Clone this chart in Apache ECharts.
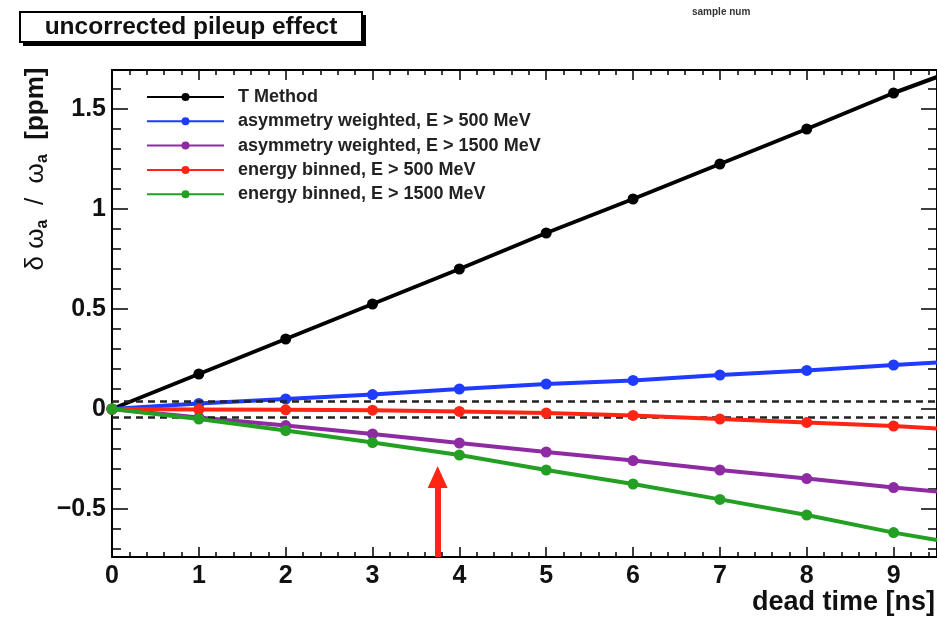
<!DOCTYPE html>
<html><head><meta charset="utf-8">
<script src="https://cdn.jsdelivr.net/npm/echarts@6/dist/echarts.min.js"></script>
<style>html,body{margin:0;padding:0;background:#fff}#c{width:937px;height:617px}</style>
</head><body><div id="c"></div>
<script>
// ---- data ----
const deadTime = [0, 1, 2, 3, 4, 5, 6, 7, 8, 9, 9.5];
const seriesNames = [
  'T Method',
  'asymmetry weighted, E > 500 MeV',
  'asymmetry weighted, E > 1500 MeV',
  'energy binned, E > 500 MeV',
  'energy binned, E > 1500 MeV'
];
const tMethod   = [0, 0.175, 0.35, 0.525, 0.70, 0.88, 1.05, 1.225, 1.40, 1.58, 1.66];
const asymW500  = [0, 0.028, 0.05, 0.072, 0.10, 0.125, 0.143, 0.17, 0.193, 0.22, 0.232];
const asymW1500 = [0, -0.042, -0.083, -0.125, -0.17, -0.215, -0.258, -0.305, -0.348, -0.393, -0.413];
const eBin500   = [0, -0.002, -0.004, -0.006, -0.012, -0.02, -0.032, -0.05, -0.067, -0.085, -0.098];
const eBin1500  = [0, -0.05, -0.108, -0.168, -0.23, -0.305, -0.375, -0.452, -0.53, -0.618, -0.655];
const seriesValues = [tMethod, asymW500, asymW1500, eBin500, eBin1500];
const seriesColors = ['#000000', '#1f3bff', '#8e2ba3', '#ff2414', '#23a023'];

const xTickLabels = [0, 1, 2, 3, 4, 5, 6, 7, 8, 9];
const yTickLabels = [-0.5, 0, 0.5, 1, 1.5];
const xRange = [0, 9.5];
const yRange = [-0.74, 1.695];
const bandLimits = [0.038, -0.038];
const arrowX = 3.75, arrowBase = -0.74, arrowHead = -0.34;

const xMinor = []; for (let i = 0; i <= 47; i++) xMinor.push(+(i * 0.2).toFixed(2));
const yMinor = []; for (let i = -7; i <= 16; i++) yMinor.push(+(i * 0.1).toFixed(2));

const FONT = 'Liberation Sans, Arial, Helvetica, sans-serif';
const fmt = v => String(v).replace('-', '\u2212');

function xAx(pos, major) {
  return {
    type: 'value', min: xRange[0], max: xRange[1], position: pos,
    axisLine: { show: major, onZero: false, lineStyle: { color: '#000', width: 2 } },
    axisTick: { show: true, inside: true, length: major ? 10 : 5,
      customValues: major ? xTickLabels : xMinor, lineStyle: { color: '#000', width: 1.5 } },
    axisLabel: { show: major && pos === 'bottom', customValues: xTickLabels, formatter: fmt,
      fontSize: 25, fontWeight: 'bold', fontFamily: FONT, color: '#111', margin: 7 },
    splitLine: { show: false }
  };
}
function yAx(pos, major) {
  return {
    type: 'value', min: yRange[0], max: yRange[1], position: pos,
    axisLine: { show: major, onZero: false, lineStyle: { color: '#000', width: 2 } },
    axisTick: { show: true, inside: true, length: major ? 16 : 9,
      customValues: major ? yTickLabels : yMinor, lineStyle: { color: '#000', width: 1.5 } },
    axisLabel: { show: major && pos === 'left', customValues: yTickLabels, formatter: fmt,
      fontSize: 25, fontWeight: 'bold', fontFamily: FONT, color: '#111', margin: 6 },
    splitLine: { show: false }
  };
}

const series = seriesNames.map((name, k) => ({
  name, type: 'line', xAxisIndex: 0, yAxisIndex: 0,
  data: deadTime.map((x, i) => ({ value: [x, seriesValues[k][i]], symbol: x > 9 ? 'none' : 'circle' })),
  symbol: 'circle', symbolSize: 11, showSymbol: true,
  lineStyle: { color: seriesColors[k], width: 4 },
  itemStyle: { color: seriesColors[k] },
  emphasis: { disabled: true }, z: 2 + k
}));
series[series.length - 1].markLine = {
  silent: true, symbol: 'none', animation: false,
  label: { show: false },
  lineStyle: { color: '#222', width: 2.5, type: [7, 5] },
  data: bandLimits.map(v => ({ yAxis: v }))
};
series.push({
  type: 'line', data: [], silent: true, z: 10,
  markLine: {
    silent: true, animation: false, label: { show: false },
    symbol: ['none', 'triangle'], symbolSize: [20, 22],
    lineStyle: { color: '#ff2414', width: 6, type: 'solid' },
    data: [[{ coord: [arrowX, arrowBase] }, { coord: [arrowX, arrowHead] }]]
  }
});

const chart = echarts.init(document.getElementById('c'), null, { renderer: 'canvas' });
chart.setOption({
  animation: false,
  backgroundColor: '#fff',
  grid: { left: 112, top: 70, width: 828, height: 487, containLabel: false },
  xAxis: [xAx('bottom', true), xAx('bottom', false), xAx('top', true), xAx('top', false)],
  yAxis: [yAx('left', true), yAx('left', false), yAx('right', true), yAx('right', false)],
  legend: {
    orient: 'vertical', left: 141, top: 82, itemWidth: 77, itemHeight: 10, itemGap: 4.3,
    data: seriesNames,
    textStyle: { fontSize: 18, lineHeight: 20, fontWeight: 'bold', fontFamily: FONT, color: '#222', padding: [0, 0, 0, 9] },
    lineStyle: { width: 2 },
    selectedMode: false
  },
  series,
  graphic: [
    { type: 'rect', shape: { x: 23, y: 15, width: 343, height: 31 }, style: { fill: '#000' }, silent: true },
    { type: 'rect', shape: { x: 20, y: 12, width: 342, height: 30 }, style: { fill: '#fff', stroke: '#000', lineWidth: 2 }, silent: true },
    { type: 'text', x: 191, y: 27, silent: true,
      style: { text: 'uncorrected pileup effect', fontSize: 24.5, fontWeight: 'bold', fontFamily: FONT,
        fill: '#111', align: 'center', verticalAlign: 'middle' } },
    { type: 'text', x: 692, y: 12, silent: true,
      style: { text: 'sample num', fontSize: 10, fontWeight: 'bold', fontFamily: FONT,
        fill: '#333', align: 'left', verticalAlign: 'middle' } },
    { type: 'text', x: 935, y: 603, silent: true,
      style: { text: 'dead time [ns]', fontSize: 27, fontWeight: 'bold', fontFamily: FONT,
        fill: '#111', align: 'right', verticalAlign: 'middle' } },
    { type: 'text', x: 36, y: 169, rotation: Math.PI / 2, silent: true,
      style: {
        text: '{g|\u03b4 \u03c9}{s|a}{g|  /  \u03c9}{s|a}{b|  [ppm]}',
        align: 'center', verticalAlign: 'middle', fill: '#111',
        rich: {
          g: { fontSize: 26, fontFamily: FONT, fill: '#111', lineHeight: 28 },
          s: { fontSize: 16, fontFamily: FONT, fontWeight: 'bold', fill: '#111', padding: [13, 0, 0, 0] },
          b: { fontSize: 26, fontFamily: FONT, fontWeight: 'bold', fill: '#111', lineHeight: 28 }
        }
      } }
  ]
});
</script></body></html>
